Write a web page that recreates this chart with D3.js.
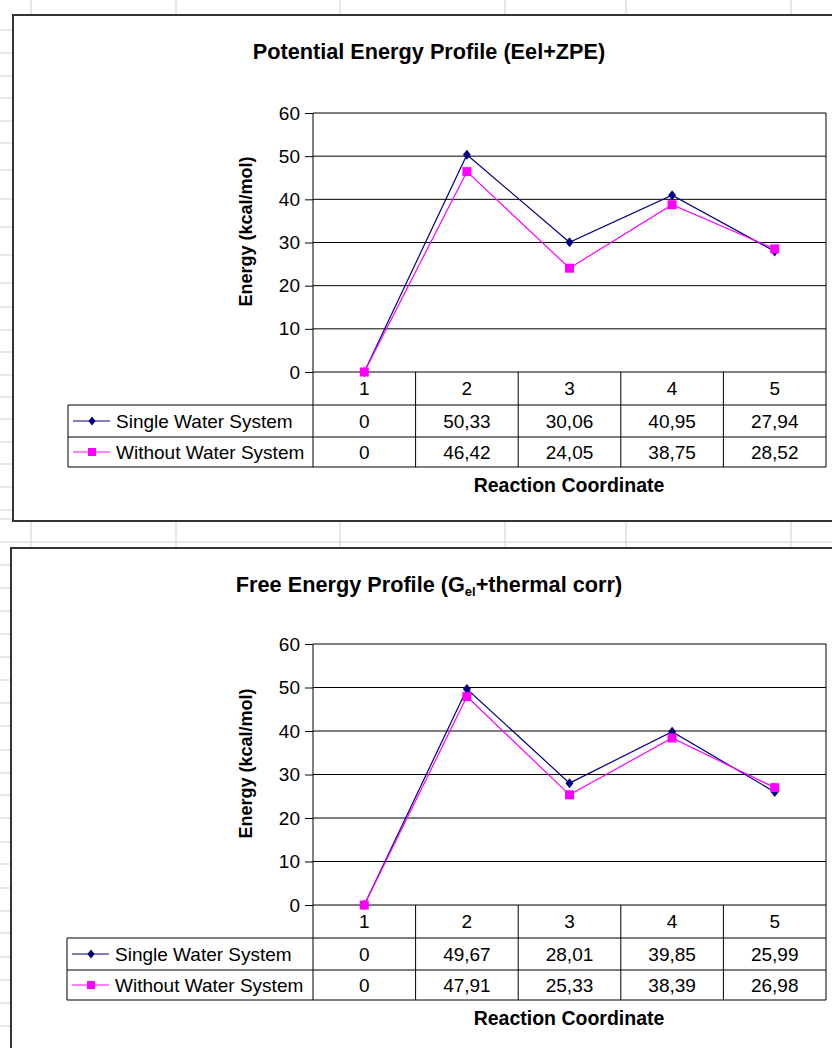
<!DOCTYPE html>
<html>
<head>
<meta charset="utf-8">
<script src="https://cdn.jsdelivr.net/npm/d3@7"></script>
<style>
  body { margin: 0; background: #fff; }
  text { font-family: "Liberation Sans", Arial, sans-serif; }
</style>
</head>
<body>
<div class="chart"></div>
<script>
const width = 832
const height = 1048

// data
const categories = ["1", "2", "3", "4", "5"]
const seriesNames = ["Single Water System", "Without Water System"]
const peSingle = [0, 50.33, 30.06, 40.95, 27.94]
const peWithout = [0, 46.42, 24.05, 38.75, 28.52]
const feSingle = [0, 49.67, 28.01, 39.85, 25.99]
const feWithout = [0, 47.91, 25.33, 38.39, 26.98]
const yTicks = [0, 10, 20, 30, 40, 50, 60]

// spreadsheet background lines
const sheetCols = [31, 176, 340, 505, 626, 791]
const sheetRows = [30, 53, 76, 98, 121, 143, 170, 199, 227, 255, 283, 307, 330, 352, 375, 397, 419, 442, 464, 487, 510, 519, 542,
    565, 588, 611, 634, 657, 680, 703, 726, 750, 773, 795, 818, 842, 864, 888, 911, 933, 957, 980, 1003, 1026]

const colors = ["#000080", "#ff00ff"]
const fmt = d3.format(".4~r")
const fmtValue = d => fmt(d).replace(".", ",")

const svg = d3.select(".chart")
    .append("svg")
    .attr("width", width)
    .attr("height", height)

svg.append("rect").attr("width", width).attr("height", height).attr("fill", "#fff")

svg.append("g").selectAll("line")
    .data(sheetCols)
    .join("line")
    .attr("x1", d => d).attr("x2", d => d)
    .attr("y1", 0).attr("y2", height)
    .attr("stroke", "#cfcfcf")

svg.append("g").selectAll("line")
    .data(sheetRows)
    .join("line")
    .attr("x1", 0).attr("x2", width)
    .attr("y1", d => d).attr("y2", d => d)
    .attr("stroke", "#cfcfcf")

const charts = [
    { frameX: 13, frameY: 15, frameH: 506, topY: 113, zeroY: 372, legendX: 68,
      title: [{ t: "Potential Energy Profile (Eel+ZPE)" }], series: [peSingle, peWithout] },
    { frameX: 11, frameY: 548, frameH: 520, topY: 644, zeroY: 905, legendX: 67,
      title: [{ t: "Free Energy Profile (G" }, { t: "el", sub: true }, { t: "+thermal corr)" }], series: [feSingle, feWithout] }
]

const plotLeft = 313
const plotRight = 826
const rowOffsets = [0, 33, 65, 95]

function marker(sel, i, s) {
    if (i === 0) {
        sel.append("path")
            .attr("d", `M0,${-s}L${s * 0.8},0L0,${s}L${-s * 0.8},0Z`)
            .attr("fill", colors[0])
    } else {
        sel.append("rect")
            .attr("x", -s).attr("y", -s)
            .attr("width", 2 * s).attr("height", 2 * s)
            .attr("fill", colors[1])
    }
}

charts.forEach(c => {
    const g = svg.append("g")

    g.append("rect")
        .attr("x", c.frameX).attr("y", c.frameY)
        .attr("width", 900).attr("height", c.frameH)
        .attr("fill", "#fff")
        .attr("stroke", "#333")
        .attr("stroke-width", 2)

    // title
    const title = g.append("text")
        .attr("x", 429).attr("y", c.frameY + 44)
        .attr("text-anchor", "middle")
        .attr("font-size", 21.7)
        .attr("font-weight", "bold")
    c.title.forEach(p => {
        const ts = title.append("tspan").text(p.t)
        if (p.sub) ts.attr("font-size", 13).attr("dy", 4)
        else if (p !== c.title[0]) ts.attr("dy", -4)
    })

    const xScale = d3.scaleBand()
        .domain(categories)
        .range([plotLeft, plotRight])

    const yScale = d3.scaleLinear()
        .domain([0, 60])
        .range([c.zeroY, c.topY])

    // gridlines
    g.append("g").selectAll("line")
        .data(yTicks)
        .join("line")
        .attr("x1", plotLeft).attr("x2", plotRight)
        .attr("y1", d => yScale(d)).attr("y2", d => yScale(d))
        .attr("stroke", "#000")

    const yAxis = d3.axisLeft(yScale)
        .tickValues(yTicks)
        .tickSize(8)
        .tickPadding(5)

    g.append("g")
        .attr("transform", "translate(" + plotLeft + ",0)")
        .call(yAxis)
        .attr("font-size", 19)
        .attr("font-family", null)
        .call(a => a.select(".domain").remove())

    g.append("text")
        .attr("transform", "translate(252," + ((c.topY + c.zeroY) / 2 - 11) + ") rotate(-90)")
        .attr("text-anchor", "middle")
        .attr("font-size", 18)
        .attr("font-weight", "bold")
        .text("Energy (kcal/mol)")

    // table lines
    const tBot = c.zeroY + rowOffsets[3]
    const tbl = g.append("g").attr("stroke", "#000")
    tbl.append("line").attr("x1", plotLeft).attr("x2", plotLeft).attr("y1", c.topY).attr("y2", tBot)
    tbl.append("line").attr("x1", plotRight).attr("x2", plotRight).attr("y1", c.topY).attr("y2", tBot)
    tbl.append("line").attr("x1", c.legendX).attr("x2", c.legendX).attr("y1", c.zeroY + rowOffsets[1]).attr("y2", tBot)
    tbl.selectAll(".sep")
        .data(categories.slice(1))
        .join("line")
        .attr("x1", d => xScale(d)).attr("x2", d => xScale(d))
        .attr("y1", c.zeroY).attr("y2", tBot)
    tbl.selectAll(".row")
        .data(rowOffsets.slice(1))
        .join("line")
        .attr("x1", c.legendX).attr("x2", plotRight)
        .attr("y1", d => c.zeroY + d).attr("y2", d => c.zeroY + d)

    // category labels
    g.append("g").selectAll("text")
        .data(categories)
        .join("text")
        .attr("x", d => xScale(d) + xScale.bandwidth() / 2)
        .attr("y", c.zeroY + rowOffsets[1] / 2)
        .attr("dy", "0.36em")
        .attr("text-anchor", "middle")
        .attr("font-size", 19)
        .text(d => d)

    // series
    c.series.forEach((vals, i) => {
        const line = d3.line()
            .x((d, j) => xScale(categories[j]) + xScale.bandwidth() / 2)
            .y(d => yScale(d))

        g.append("path")
            .attr("d", line(vals))
            .attr("fill", "none")
            .attr("stroke", colors[i])
            .attr("stroke-width", 1.2)

        g.append("g").selectAll("g")
            .data(vals)
            .join("g")
            .attr("transform", (d, j) => "translate(" + (xScale(categories[j]) + xScale.bandwidth() / 2) + "," + yScale(d) + ")")
            .each(function () { marker(d3.select(this), i, i === 0 ? 5 : 4.5) })

        const rowMid = c.zeroY + (rowOffsets[i + 1] + rowOffsets[i + 2]) / 2

        // legend key
        g.append("line")
            .attr("x1", c.legendX + 5).attr("x2", c.legendX + 42)
            .attr("y1", rowMid).attr("y2", rowMid)
            .attr("stroke", colors[i])
            .attr("stroke-width", 1.2)
        g.append("g")
            .attr("transform", "translate(" + (c.legendX + 24) + "," + rowMid + ")")
            .each(function () { marker(d3.select(this), i, i === 0 ? 4.5 : 4) })
        g.append("text")
            .attr("x", c.legendX + 48).attr("y", rowMid)
            .attr("dy", "0.36em")
            .attr("font-size", 19)
            .text(seriesNames[i])

        g.append("g").selectAll("text")
            .data(vals)
            .join("text")
            .attr("x", (d, j) => xScale(categories[j]) + xScale.bandwidth() / 2)
            .attr("y", rowMid)
            .attr("dy", "0.36em")
            .attr("text-anchor", "middle")
            .attr("font-size", 19)
            .text(d => fmtValue(d))
    })

    g.append("text")
        .attr("x", 569).attr("y", c.zeroY + 113)
        .attr("dy", "0.36em")
        .attr("text-anchor", "middle")
        .attr("font-size", 19.5)
        .attr("font-weight", "bold")
        .text("Reaction Coordinate")
})
</script>
</body>
</html>
